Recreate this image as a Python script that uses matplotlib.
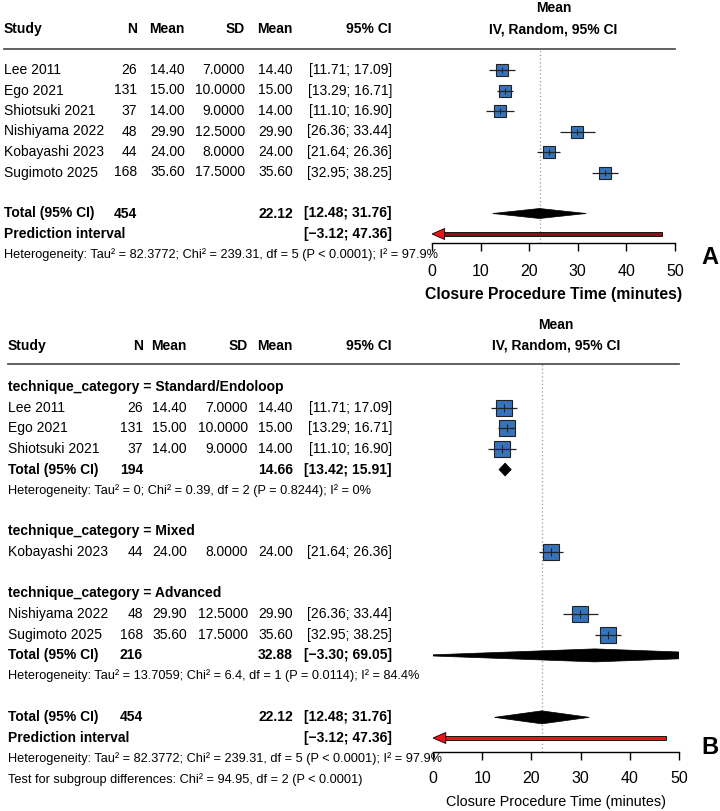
import matplotlib.pyplot as plt
from matplotlib.patches import Polygon, Rectangle

plt.rcParams['font.family'] = ['Liberation Sans', 'DejaVu Sans']

# study level data
studies = ['Lee 2011', 'Ego 2021', 'Shiotsuki 2021', 'Nishiyama 2022', 'Kobayashi 2023', 'Sugimoto 2025']
n = [26, 131, 37, 48, 44, 168]
mean = [14.40, 15.00, 14.00, 29.90, 24.00, 35.60]
sd = [7.0, 10.0, 9.0, 12.5, 8.0, 17.5]
ci_lo = [11.71, 13.29, 11.10, 26.36, 21.64, 32.95]
ci_hi = [17.09, 16.71, 16.90, 33.44, 26.36, 38.25]
category = ['Standard/Endoloop', 'Standard/Endoloop', 'Standard/Endoloop',
            'Advanced', 'Mixed', 'Advanced']

# pooled results
n_total = 454
overall = 22.12
overall_lo = 12.48
overall_hi = 31.76
pi_lo = -3.12
pi_hi = 47.36
het_overall = 'Heterogeneity: Tau² = 82.3772; Chi² = 239.31, df = 5 (P < 0.0001); I² = 97.9%'

# subgroups (Mixed has one study only -> no pooled row)
sub_names = ['Standard/Endoloop', 'Mixed', 'Advanced']
sub_n = [194, None, 216]
sub_mean = [14.66, None, 32.88]
sub_lo = [13.42, None, -3.30]
sub_hi = [15.91, None, 69.05]
sub_het = ['Heterogeneity: Tau² = 0; Chi² = 0.39, df = 2 (P = 0.8244); I² = 0%',
           None,
           'Heterogeneity: Tau² = 13.7059; Chi² = 6.4, df = 1 (P = 0.0114); I² = 84.4%']
test_sub = 'Test for subgroup differences: Chi² = 94.95, df = 2 (P < 0.0001)'

xticks = [0, 10, 20, 30, 40, 50]
xlabel = 'Closure Procedure Time (minutes)'

W, H = 720, 811
BLUE = '#3574ba'
FS = 10
FS_SMALL = 9.2


def fmt_ci(lo, hi):
    return '[%s; %s]' % (('%.2f' % lo).replace('-', '\u2212'), ('%.2f' % hi).replace('-', '\u2212'))


fig = plt.figure(figsize=(W / 100, H / 100), dpi=100)
bg = fig.add_axes([0, 0, 1, 1])
bg.set_xlim(0, W)
bg.set_ylim(H, 0)
bg.axis('off')


def txt(x, y, s, ha='left', bold=False, size=FS):
    bg.text(x, y, s, ha=ha, va='center', fontsize=size,
            fontweight='bold' if bold else 'normal')


def forest_axes(left, right, top, bottom, pad):
    ax = fig.add_axes([left / W, 1 - bottom / H, (right - left) / W, (bottom - top) / H])
    ax.set_xlim(0, 50)
    ax.set_ylim(bottom, top)
    ax.patch.set_alpha(0)
    for s in ['top', 'left', 'right']:
        ax.spines[s].set_visible(False)
    ax.spines['bottom'].set_linewidth(1.0)
    ax.set_yticks([])
    ax.set_xticks(xticks)
    ax.tick_params(axis='x', direction='out', length=5.5, width=1.0, pad=pad, labelsize=11.5)
    ax.axvline(overall, color='#999999', lw=0.9, ls=(0, (1, 2)), zorder=1)
    return ax


def draw_study(ax, y, i, ms):
    ax.plot(mean[i], y, 's', ms=ms, mfc=BLUE, mec='#222222', mew=0.8, zorder=3)
    ax.hlines(y, ci_lo[i], ci_hi[i], color='#222222', lw=0.9, zorder=4)
    ax.plot(mean[i], y, '|', ms=ms * 0.45, color='#222222', mew=0.8, zorder=5)


def draw_diamond(ax, y, est, lo, hi, h):
    ax.add_patch(Polygon([(lo, y), (est, y - h / 2), (hi, y), (est, y + h / 2)],
                         closed=True, fc='black', ec='black', lw=0.5, zorder=3))


def draw_pi(ax, y, line_col):
    left = max(pi_lo, 0)
    head = 2.6
    ax.add_patch(Rectangle((left + head * 0.6, y - 2.2), pi_hi - left - head * 0.6, 4.4,
                           fc=line_col, ec='black', lw=0.6, zorder=3))
    ax.add_patch(Polygon([(left, y), (left + head, y - 5.5), (left + head, y + 5.5)],
                         closed=True, fc='#e8141b', ec='black', lw=0.6, zorder=4))


def study_row(y, i, cols):
    txt(cols[0], y, studies[i])
    txt(cols[1], y, str(n[i]), 'right')
    txt(cols[2], y, '%.2f' % mean[i], 'right')
    txt(cols[3], y, '%.4f' % sd[i], 'right')
    txt(cols[4], y, '%.2f' % mean[i], 'right')
    txt(cols[5], y, fmt_ci(ci_lo[i], ci_hi[i]), 'right')


def header(y0, h, cols, center):
    txt(center, y0, 'Mean', 'center', True)
    y1 = y0 + h
    txt(cols[0], y1, 'Study', bold=True)
    txt(cols[1], y1, 'N', 'right', True)
    txt(cols[2], y1, 'Mean', 'right', True)
    txt(cols[3], y1, 'SD', 'right', True)
    txt(cols[4], y1, 'Mean', 'right', True)
    txt(cols[5], y1, '95% CI', 'right', True)
    txt(center, y1, 'IV, Random, 95% CI', 'center', True)


def total_rows(y_tot, y_pi, y_het, cols):
    txt(cols[0], y_tot, 'Total (95% CI)', bold=True)
    txt(cols[1], y_tot, str(n_total), 'right', True)
    txt(cols[4], y_tot, '%.2f' % overall, 'right', True)
    txt(cols[5], y_tot, fmt_ci(overall_lo, overall_hi), 'right', True)
    txt(cols[0], y_pi, 'Prediction interval', bold=True)
    txt(cols[5], y_pi, fmt_ci(pi_lo, pi_hi), 'right', True)
    txt(cols[0], y_het, het_overall, size=FS_SMALL)


# ---------------- Panel A ----------------
y0, h = 8.5, 20.5
colsA = [4, 137, 185, 245, 293, 392]
axA = forest_axes(432, 675, 49, 243, 9.5)
cA = (432 + 675) / 2
header(y0, h, colsA, cA)
bg.plot([4, 675], [49, 49], color='#555555', lw=1.3)
for i in range(len(studies)):
    y = y0 + (3 + i) * h
    study_row(y, i, colsA)
    draw_study(axA, y, i, 8.3)
yt = y0 + 10 * h
draw_diamond(axA, yt, overall, overall_lo, overall_hi, 10)
draw_pi(axA, y0 + 11 * h, '#8a1116')
total_rows(yt, y0 + 11 * h, y0 + 12 * h, colsA)
txt(cA, 294, xlabel, 'center', True, 11.3)
txt(710, 257, 'A', 'center', True, 17)

# ---------------- Panel B ----------------
y0, h = 325, 20.65
colsB = [8, 143, 187, 248, 293, 392]
axB = forest_axes(433, 679, 364, 752, 8.5)
cB = (433 + 679) / 2
header(y0, h, colsB, cB)
bg.plot([8, 679], [364, 364], color='#555555', lw=1.3)
k = 3
for g, name in enumerate(sub_names):
    txt(colsB[0], y0 + k * h, 'technique_category = ' + name, bold=True)
    k += 1
    for i in range(len(studies)):
        if category[i] == name:
            study_row(y0 + k * h, i, colsB)
            draw_study(axB, y0 + k * h, i, 12)
            k += 1
    if sub_n[g] is not None:
        y = y0 + k * h
        txt(colsB[0], y, 'Total (95% CI)', bold=True)
        txt(colsB[1], y, str(sub_n[g]), 'right', True)
        txt(colsB[4], y, '%.2f' % sub_mean[g], 'right', True)
        txt(colsB[5], y, fmt_ci(sub_lo[g], sub_hi[g]), 'right', True)
        draw_diamond(axB, y, sub_mean[g], sub_lo[g], sub_hi[g], 13)
        k += 1
        txt(colsB[0], y0 + k * h, sub_het[g], size=FS_SMALL)
        k += 1
    k += 1
yt = y0 + k * h
draw_diamond(axB, yt, overall, overall_lo, overall_hi, 13)
draw_pi(axB, y0 + (k + 1) * h, '#e8141b')
total_rows(yt, y0 + (k + 1) * h, y0 + (k + 2) * h, colsB)
txt(colsB[0], y0 + (k + 3) * h, test_sub, size=FS_SMALL)
txt(cB, 802, xlabel, 'center', False, 10.4)
txt(710, 747, 'B', 'center', True, 17)

fig.savefig('out.png', dpi=100)
